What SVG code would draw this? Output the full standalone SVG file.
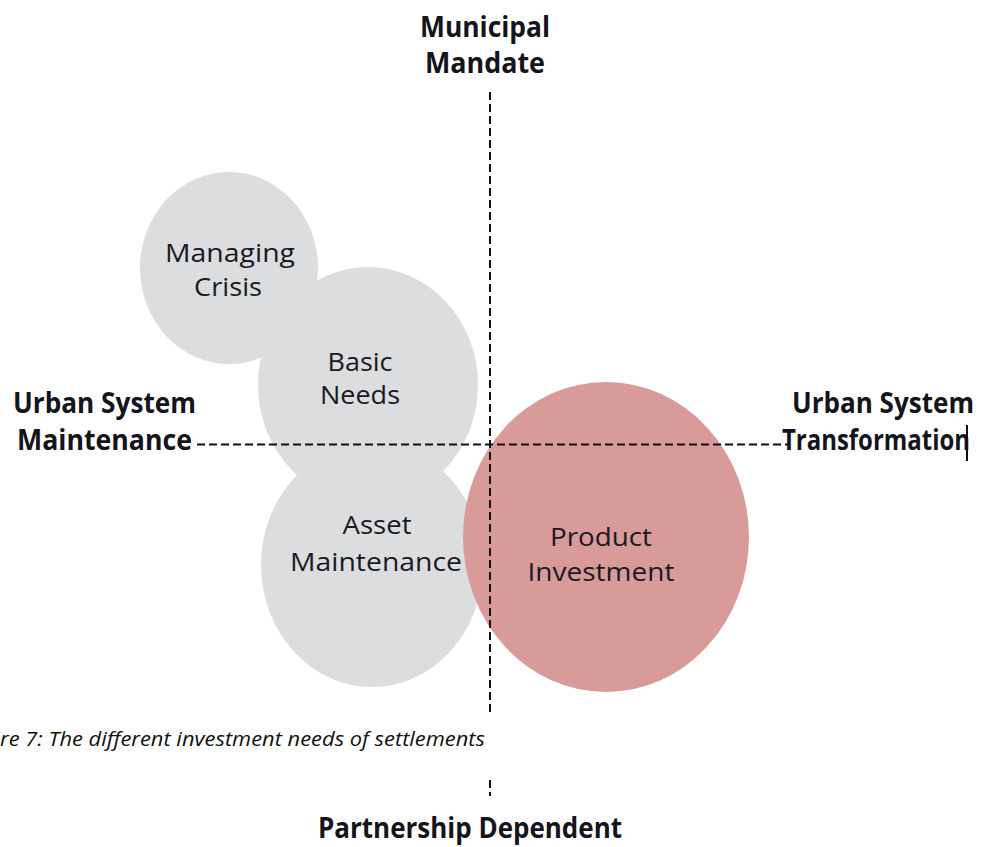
<svg xmlns="http://www.w3.org/2000/svg" width="987" height="847" viewBox="0 0 987 847">
  <style>
    .bg { fill: #ffffff; }
    .grey { fill: #dcddde; }
    .pink { fill: #d89b9a; }
    .axis { stroke: #111111; stroke-width: 2; stroke-dasharray: 8 4; fill: none; }
    .lbl { font-family: "Open Sans", "Liberation Sans", sans-serif; font-size: 26px; fill: #1a1a22; text-anchor: middle; }
    .ax { font-family: "Open Sans", "Liberation Sans", sans-serif; font-size: 28px; font-weight: bold; fill: #14141c; }
    .cap { font-family: "Open Sans", "Liberation Sans", sans-serif; font-size: 20px; font-style: italic; fill: #111111; }
  </style>
  <rect class="bg" x="0" y="0" width="987" height="847"/>

  <g id="node-managing-crisis">
    <ellipse class="grey" cx="229" cy="268" rx="89" ry="96"/>
    <text class="lbl" x="230" y="262" textLength="130" lengthAdjust="spacingAndGlyphs">Managing</text>
    <text class="lbl" x="228" y="296" textLength="68" lengthAdjust="spacingAndGlyphs">Crisis</text>
  </g>

  <g id="node-basic-needs">
    <ellipse class="grey" cx="368" cy="385" rx="110" ry="118"/>
    <text class="lbl" x="360" y="371" textLength="65" lengthAdjust="spacingAndGlyphs">Basic</text>
    <text class="lbl" x="360" y="404" textLength="80" lengthAdjust="spacingAndGlyphs">Needs</text>
  </g>

  <g id="node-asset-maintenance">
    <ellipse class="grey" cx="372" cy="565" rx="111" ry="122"/>
    <text class="lbl" x="377" y="534" textLength="69" lengthAdjust="spacingAndGlyphs">Asset</text>
    <text class="lbl" x="376" y="571" textLength="172" lengthAdjust="spacingAndGlyphs">Maintenance</text>
  </g>

  <g id="node-product-investment">
    <ellipse class="pink" cx="606" cy="537" rx="143" ry="155"/>
    <text class="lbl" x="601" y="546" textLength="102" lengthAdjust="spacingAndGlyphs">Product</text>
    <text class="lbl" x="601" y="581" textLength="147" lengthAdjust="spacingAndGlyphs">Investment</text>
  </g>

  <g id="connectors">
    <line class="axis" x1="490" y1="92" x2="490" y2="716"/>
    <line class="axis" x1="197" y1="444.5" x2="790" y2="444.5"/>
    <line class="axis" x1="490" y1="780" x2="490" y2="796" stroke-dasharray="2 6 8 4"/>
  </g>

  <g id="label-municipal-mandate">
    <text class="ax" x="420" y="37" textLength="130" lengthAdjust="spacingAndGlyphs">Municipal</text>
    <text class="ax" x="425" y="73" textLength="120" lengthAdjust="spacingAndGlyphs">Mandate</text>
  </g>

  <g id="label-urban-system-maintenance">
    <text class="ax" x="13" y="413" textLength="183" lengthAdjust="spacingAndGlyphs">Urban System</text>
    <text class="ax" x="17" y="450" textLength="175" lengthAdjust="spacingAndGlyphs">Maintenance</text>
  </g>

  <g id="label-urban-system-transformation">
    <text class="ax" x="792" y="413" textLength="182" lengthAdjust="spacingAndGlyphs">Urban System</text>
    <text class="ax" x="782" y="450" textLength="188" lengthAdjust="spacingAndGlyphs">Transformation</text>
    <line x1="967" y1="425" x2="967" y2="461" stroke="#111111" stroke-width="2"/>
  </g>

  <g id="label-partnership-dependent">
    <text class="ax" x="318" y="838" textLength="304" lengthAdjust="spacingAndGlyphs">Partnership Dependent</text>
  </g>

  <g id="caption">
    <text class="cap" x="0" y="746" textLength="485" lengthAdjust="spacingAndGlyphs">re 7: The different investment needs of settlements</text>
  </g>
</svg>
